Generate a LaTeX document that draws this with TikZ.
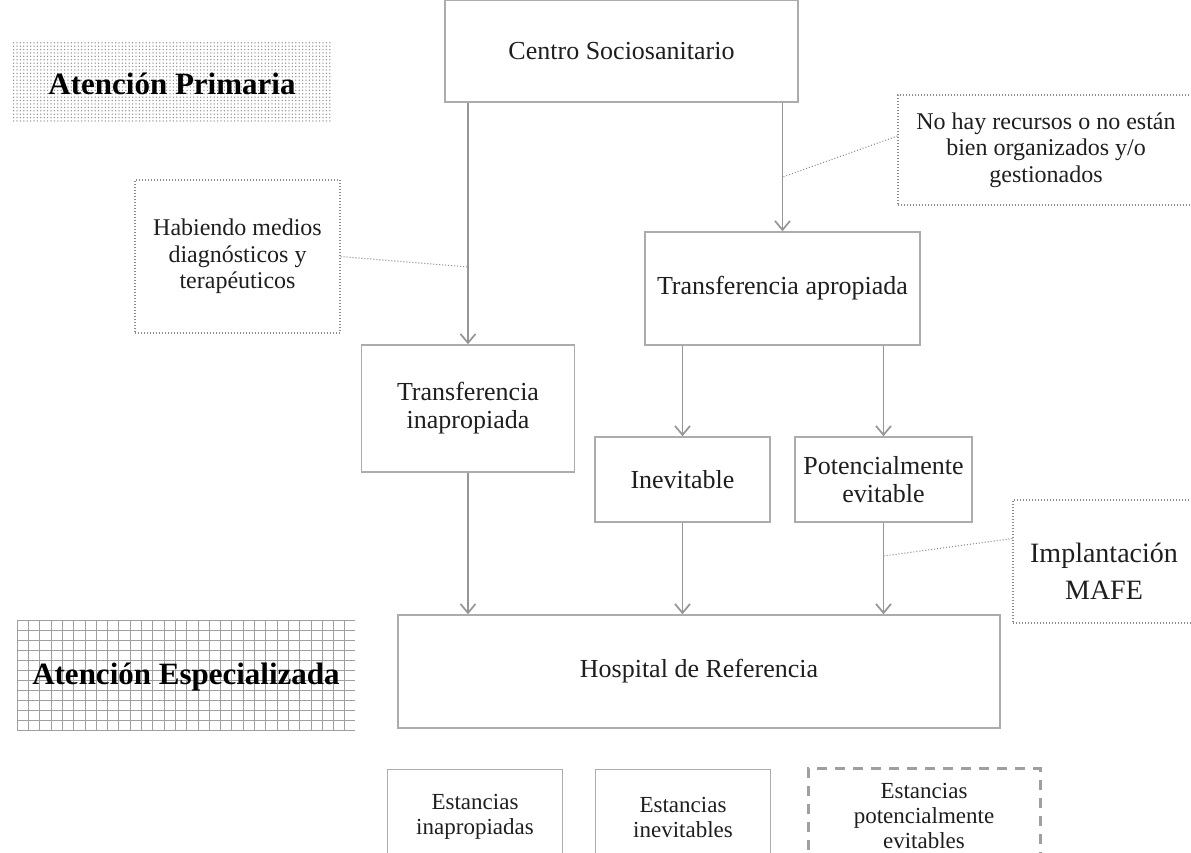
\documentclass[tikz,border=0pt]{standalone}
\usepackage{fontspec}
\setmainfont{Liberation Serif}
\usetikzlibrary{arrows.meta}
\usetikzlibrary{patterns}
\usetikzlibrary{positioning}
\definecolor{boxgray}{RGB}{172,172,172}
\definecolor{arrowgray}{RGB}{150,150,150}
\definecolor{textdark}{RGB}{30,30,30}
\pgfdeclarepatternformonly{finedots}{\pgfqpoint{-1pt}{-1pt}}{\pgfqpoint{1pt}{1pt}}{\pgfqpoint{3.4pt}{3.4pt}}{%
  \pgfpathcircle{\pgfqpoint{0pt}{0pt}}{0.75pt}\pgfusepath{fill}}
\tikzstyle{box}=[rectangle, draw=boxgray, line width=1.5pt, align=center, inner sep=0pt, text=textdark, font=\fontsize{26}{28}\selectfont]
\tikzstyle{notebox}=[rectangle, draw=gray!90, dash pattern=on 1pt off 2pt, line width=1.1pt, align=center, inner sep=0pt, text=textdark, font=\fontsize{24}{26.5}\selectfont]
\tikzstyle{stancebox}=[rectangle, draw=boxgray, line width=1.3pt, align=center, inner sep=0pt, text=textdark, font=\fontsize{23}{25}\selectfont]
\tikzstyle{arrow}=[-{Straight Barb[length=9pt,width=15pt]}, draw=arrowgray, line width=1.7pt]
\tikzstyle{leader}=[draw=gray!90, dash pattern=on 1pt off 2pt, line width=1.1pt]
\tikzstyle{title}=[text=black, font=\bfseries\fontsize{31}{34}\selectfont]
\tikzset{every picture/.style={
    x=1pt, y=-1pt
  }
}

\begin{document}
\begin{tikzpicture}
        \useasboundingbox (0,0) rectangle (1191,852);
        \clip (0,0) rectangle (1191,852);
        % levels of care
        \fill[pattern=finedots, pattern color=gray!85] (12,40) rectangle (332,122);
        \foreach \gx in {17,28.3,...,356} \draw[gray!75, line width=0.6pt] (\gx,620) -- (\gx,730);
        \foreach \gy in {620,630,...,730} \draw[gray!75, line width=0.6pt] (17,\gy) -- (355,\gy);
        \node[title] at (172,84) (primaria) {Atención Primaria};
        \node[title] at (186,677) (especializada) {Atención Especializada};

        \node[box, minimum width=353, minimum height=102] at (621.5,51) (centro) {Centro Sociosanitario};
        \node[box, minimum width=275, minimum height=113] at (782.5,288.5) (apropiada) {Transferencia apropiada};
        \node[box, minimum width=213, minimum height=127] at (468,408.5) (inapropiada) {Transferencia\\inapropiada};
        \node[box, minimum width=175, minimum height=85] at (682.5,479.5) (inevitable) {Inevitable};
        \node[box, minimum width=177, minimum height=85] at (883.5,479.5) (evitable) {Potencialmente\\evitable};
        \node[box, minimum width=602, minimum height=113] at (699,671.5) (hospital) {Hospital de Referencia};

        % notes
        \node[notebox, minimum width=205, minimum height=153] at (237.5,256.5) (medios) {Habiendo medios\\diagnósticos y\\terapéuticos};
        \node[notebox, minimum width=296, minimum height=110] at (1046,150) (recursos) {No hay recursos o no están\\bien organizados y/o\\gestionados};
        \node[notebox, minimum width=190, minimum height=123] at (1108,561.5) (mafe) {};
        \node[text=textdark, align=center, font=\fontsize{28}{37}\selectfont] at (1104,571) (mafetext) {Implantación\\MAFE};

        % stays
        \node[stancebox, minimum width=175, minimum height=95] at (475,817) (est1) {Estancias\\inapropiadas};
        \node[stancebox, minimum width=175, minimum height=95] at (683,817) (est2) {Estancias\\inevitables};
        \node[stancebox, draw=gray!75, line width=3pt, dash pattern=on 10pt off 8pt, minimum width=232, minimum height=95] at (924,816) (est3) {Estancias\\potencialmente\\evitables};

        % transfers
        \draw[arrow] (centro.south -| inapropiada.north) -- (inapropiada.north);
        \draw[arrow] (centro.south -| apropiada.north) -- (apropiada.north);
        \draw[arrow] (apropiada.south -| inevitable.north) -- (inevitable.north);
        \draw[arrow] (apropiada.south -| evitable.north) -- (evitable.north);
        \draw[arrow] (inapropiada.south) -- (hospital.north -| inapropiada.south);
        \draw[arrow] (inevitable.south) -- (hospital.north -| inevitable.south);
        \draw[arrow] (evitable.south) -- (hospital.north -| evitable.south);

        \coordinate (mediospt) at (468,267);
        \coordinate (recursospt) at (782.5,177);
        \coordinate (mafept) at (883.5,556);
        \draw[leader] (medios.east) -- (mediospt);
        \draw[leader] ([yshift=14pt]recursos.west) -- (recursospt);
        \draw[leader] ([yshift=23pt]mafe.west) -- (mafept);
      \end{tikzpicture}
\end{document}
